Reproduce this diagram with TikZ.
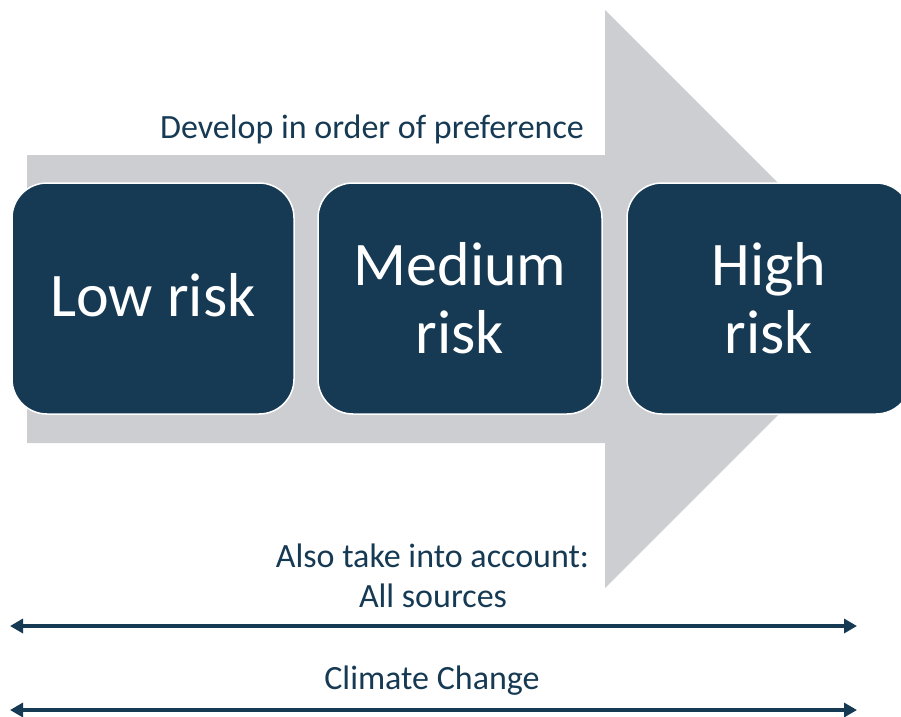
\documentclass[tikz,border=0pt]{standalone}
\usepackage{fontspec}
\setmainfont{Carlito}
\usetikzlibrary{arrows.meta}
\definecolor{navy}{HTML}{163A54}
\definecolor{arrowgray}{HTML}{CDCED2}
\begin{document}
\begin{tikzpicture}[x=1pt,y=-1pt,
  riskbox/.style={draw=white, line width=1.5pt, fill=navy, rounded corners=35pt,
    text=white, font=\fontsize{62}{68}\selectfont, align=center,
    minimum width=284pt, minimum height=231pt, inner sep=0pt},
  lbltext/.style={text=navy, font=\fontsize{34}{40}\selectfont, inner sep=0pt},
  spanarrow/.style={draw=navy, line width=4pt,
    {Triangle[length=13pt,width=14pt]}-{Triangle[length=13pt,width=14pt]}}]
\useasboundingbox (0,0) rectangle (901,716);
\path[clip] (0,0) rectangle (901,716);
% big grey arrow
\fill[arrowgray] (27,155) -- (605,155) -- (605,10) -- (894,299) -- (605,588)
  -- (605,443) -- (27,443) -- cycle;
% risk boxes
\node[riskbox, minimum width=282pt, text depth=8pt] (low) at (153,298.5) {Low risk};
\node[riskbox] (med) at (460,298.5) {Medium\\risk};
\node[riskbox] (high) at (769,298.5) {High\\risk};
% labels
\node[lbltext, anchor=base] (develop) at (372,138) {Develop in order of preference};
\node[lbltext, anchor=base] (also) at (432.5,567) {Also take into account:};
\node[lbltext, anchor=base] (allsrc) at (433,607) {All sources};
\node[lbltext, anchor=base] (climate) at (432,689) {Climate Change};
% span arrows
\coordinate (s1l) at (10,626);
\coordinate (s1r) at (857,626);
\coordinate (s2l) at (10,710);
\coordinate (s2r) at (857,710);
\draw[spanarrow] (s1l) -- (s1r);
\draw[spanarrow] (s2l) -- (s2r);
\end{tikzpicture}
\end{document}
